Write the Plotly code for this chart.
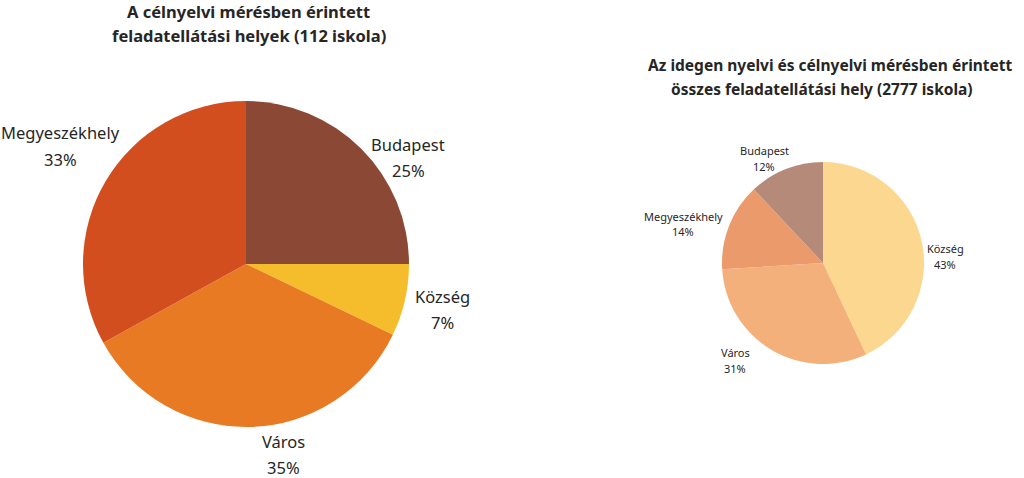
import plotly.graph_objects as go

# Left chart: schools in target-language measurement (112 schools)
left_title = ["A célnyelvi mérésben érintett", "feladatellátási helyek (112 iskola)"]
left_categories = ["Budapest", "Község", "Város", "Megyeszékhely"]
left_values = [28, 8, 39, 37]
left_colors = ["#8B4834", "#F5BD2B", "#E97A24", "#D34E1F"]

# Right chart: all schools (2777 schools)
right_title = ["Az idegen nyelvi és célnyelvi mérésben érintett", "összes feladatellátási hely (2777 iskola)"]
right_categories = ["Község", "Város", "Megyeszékhely", "Budapest"]
right_values = [43, 31, 14, 12]
right_colors = ["#FBD78F", "#F4B07A", "#EB9A6C", "#B58A78"]

W, H = 1024, 478
FONT = "Noto Sans"

def dom(cx, cy, r):
    return dict(x=[(cx - r) / W, (cx + r) / W], y=[(H - cy - r) / H, (H - cy + r) / H])

fig = go.Figure()
fig.add_trace(go.Pie(labels=left_categories, values=left_values, sort=False,
                     direction="clockwise", rotation=0, textinfo="none",
                     marker=dict(colors=left_colors, line=dict(width=0)),
                     domain=dom(246, 264, 163), hoverinfo="label+percent"))
fig.add_trace(go.Pie(labels=right_categories, values=right_values, sort=False,
                     direction="clockwise", rotation=0, textinfo="none",
                     marker=dict(colors=right_colors, line=dict(width=0)),
                     domain=dom(823, 263, 101), hoverinfo="label+percent"))

def pct(vals, i):
    return round(vals[i] / sum(vals) * 100)

annotations = []
def add(x, y, text, size, bold=False):
    annotations.append(dict(x=x / W, y=1 - y / H, xref="paper", yref="paper",
                            text=("<b>%s</b>" % text) if bold else text,
                            showarrow=False, xanchor="center", yanchor="middle",
                            font=dict(family=FONT, size=size, color="#262626")))

add(248, 12, left_title[0], 16.5, bold=True)
add(249, 35, left_title[1], 16.5, bold=True)
add(830, 65, right_title[0], 15.5, bold=True)
add(822, 89, right_title[1], 15.5, bold=True)

left_pos = {"Budapest": (408, 144), "Község": (442, 296), "Város": (283, 441), "Megyeszékhely": (60, 133)}
for i, c in enumerate(left_categories):
    x, y = left_pos[c]
    add(x, y, c, 16.5)
    add(x, y + 26, "%d%%" % pct(left_values, i), 16.5)

right_pos = {"Budapest": (764, 150), "Község": (945, 248), "Város": (735, 352), "Megyeszékhely": (683, 216)}
for i, c in enumerate(right_categories):
    x, y = right_pos[c]
    add(x, y, c, 11)
    add(x, y + 16, "%d%%" % pct(right_values, i), 11)

fig.update_layout(width=W, height=H, margin=dict(l=0, r=0, t=0, b=0),
                  paper_bgcolor="white", plot_bgcolor="white", showlegend=False,
                  annotations=annotations, font=dict(family=FONT))
fig.write_html("out.html")
